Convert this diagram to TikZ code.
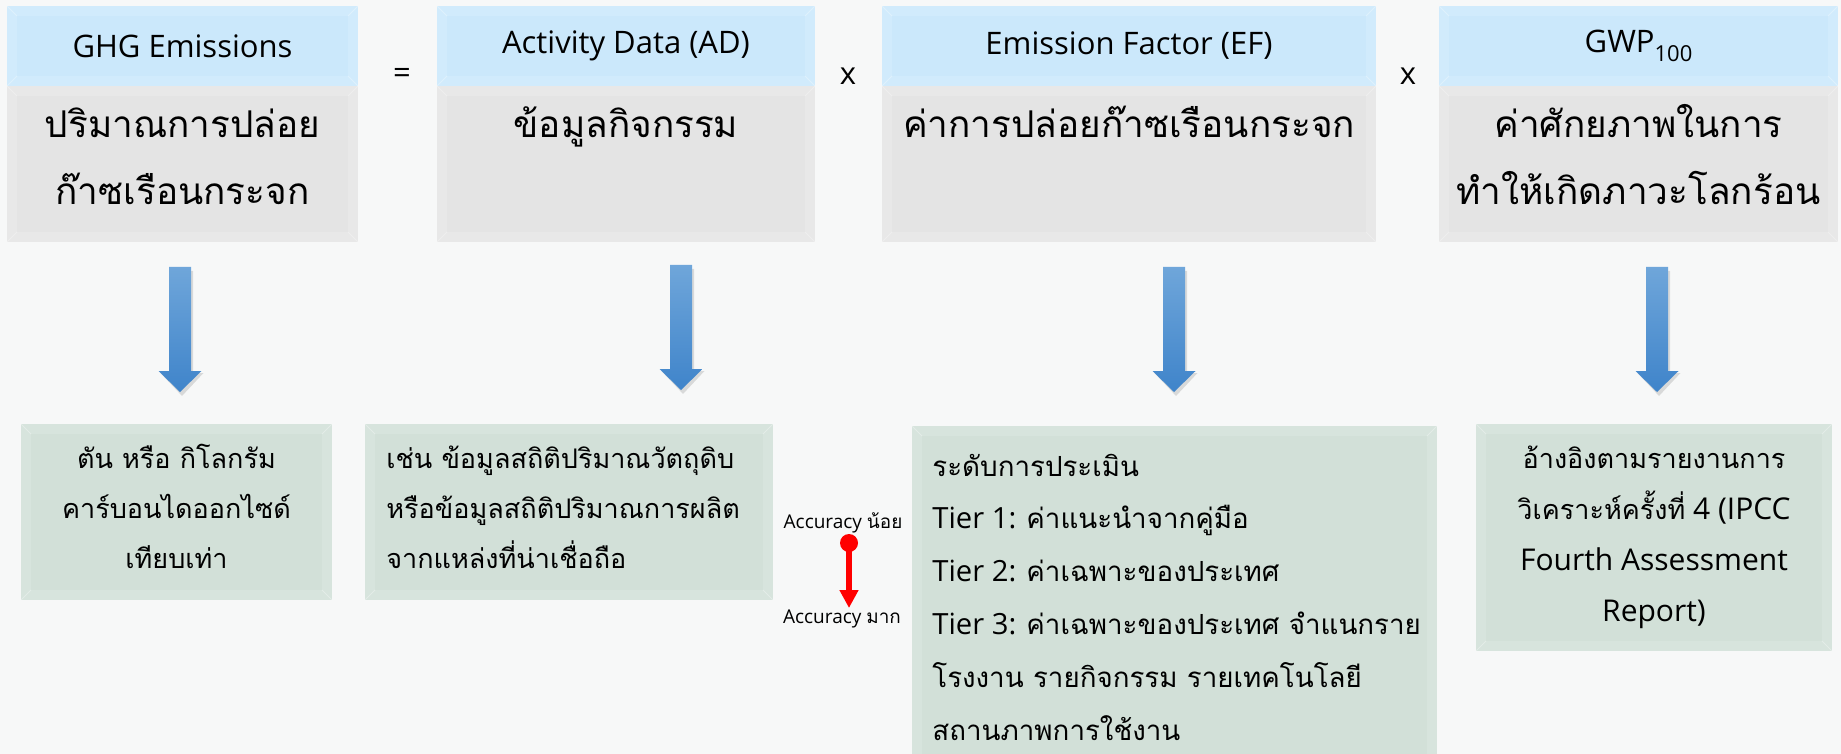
\documentclass[tikz,border=0pt]{standalone}
\usepackage{fontspec}
\setmainfont{Open Sans}
\newfontfamily\thfont[Script=Thai, Scale=0.9]{Loma}
\usetikzlibrary{arrows.meta}
\definecolor{bgcol}{HTML}{F7F8F8}
\definecolor{hdrin}{HTML}{CBE8FB}
\definecolor{hdrout}{HTML}{D1EBFC}
\definecolor{grayin}{HTML}{E4E4E4}
\definecolor{grayout}{HTML}{E8E8E8}
\definecolor{grnin}{HTML}{D2E0D8}
\definecolor{grnout}{HTML}{D7E4DD}
\definecolor{arrtop}{HTML}{6FA6DA}
\definecolor{arrbot}{HTML}{3F84CA}
\definecolor{accred}{HTML}{FF0000}
\tikzset{
  bevel/.style 2 args={fill=#1, draw=none, inner sep=0pt,
    path picture={
      \fill[#2] ([shift={(5pt,-5pt)}]path picture bounding box.north west) rectangle ([shift={(-5pt,5pt)}]path picture bounding box.south east);
      \draw[white, opacity=.3, line width=.5pt] (path picture bounding box.north west) -- ++(5pt,-5pt)
        (path picture bounding box.north east) -- ++(-5pt,-5pt)
        (path picture bounding box.south west) -- ++(5pt,5pt)
        (path picture bounding box.south east) -- ++(-5pt,5pt);
    }},
  hdrbox/.style={bevel={hdrout}{hdrin}, minimum height=40pt, font=\fontsize{15.5}{18}\selectfont},
  graybox/.style={bevel={grayout}{grayin}, minimum height=78pt},
  grnbox/.style={bevel={grnout}{grnin}},
  bigtxt/.style={inner sep=0pt, align=center, font=\thfont\fontsize{20.5}{33.5}\selectfont},
  smalltxt/.style={inner sep=0pt, font=\fontsize{15}{25}\selectfont},
  optxt/.style={inner sep=0pt, font=\fontsize{15.5}{18}\selectfont},
  acctxt/.style={inner sep=0pt, font=\fontsize{9.5}{11}\selectfont},
  fatarrow/.pic={
    \fill[black, opacity=.12] (-9,4) -- (13,4) -- (13,106) -- (23.5,106) -- (2,129) -- (-19.5,106) -- (-9,106) -- cycle;
    \shade[top color=arrtop, bottom color=arrbot] (-11,0) -- (11,0) -- (11,104) -- (21.5,104) -- (0,125) -- (-21.5,104) -- (-11,104) -- cycle;
  }
}
\begin{document}
\begin{tikzpicture}[x=0.5pt,y=-0.5pt]
\useasboundingbox (0,0) rectangle (1841,754);
\clip (0,0) rectangle (1841,754);
\fill[bgcol] (0,0) rectangle (1841,754);

% header boxes
\node[hdrbox, minimum width=175.5pt] (h1) at (182.5,46) {GHG Emissions};
\node[hdrbox, minimum width=189pt] (h2) at (626,46) {Activity Data (AD)};
\node[hdrbox, minimum width=247pt] (h3) at (1129,46) {Emission Factor (EF)};
\node[hdrbox, minimum width=199.5pt] (h4) at (1638.5,46) {GWP\raisebox{-0.55ex}{\fontsize{11}{11}\selectfont 100}};

% gray boxes
\node[graybox, minimum width=175.5pt] (g1) at (182.5,164) {};
\node[graybox, minimum width=189pt] (g2) at (626,164) {};
\node[graybox, minimum width=247pt] (g3) at (1129,164) {};
\node[graybox, minimum width=199.5pt] (g4) at (1638.5,164) {};

% (anchor=base of a multi-line node is the baseline of its last line)
\node[bigtxt, anchor=base] (gt1) at (182.5,205) {ปริมาณการปล่อย\\ก๊าซเรือนกระจก};
\node[bigtxt, anchor=base] (gt2) at (626,138) {ข้อมูลกิจกรรม};
\node[bigtxt, anchor=base] (gt3) at (1129,138) {ค่าการปล่อยก๊าซเรือนกระจก};
\node[bigtxt, anchor=base] (gt4) at (1638.5,205) {ค่าศักยภาพในการ\\ทำให้เกิดภาวะโลกร้อน};

% operators
\node[optxt] (eq) at (402,76) {=};
\node[optxt] (x1) at (848,76) {x};
\node[optxt] (x2) at (1408,76) {x};

% fat arrows
\pic at (180,267) {fatarrow};
\pic at (681,265) {fatarrow};
\pic at (1174,267) {fatarrow};
\pic at (1657,267) {fatarrow};

% bottom boxes
\node[grnbox, minimum width=155.5pt, minimum height=88pt] (b1) at (176.5,512) {};
\node[grnbox, minimum width=204pt, minimum height=88pt] (b2) at (569,512) {};
\node[grnbox, minimum width=262.5pt, minimum height=177pt] (b3) at (1174.5,603) {};
\node[grnbox, minimum width=178pt, minimum height=113.5pt] (b4) at (1654,537.5) {};

\node[smalltxt, align=center, anchor=base] (bt1) at (176.5,568) {\thfont ตัน หรือ กิโลกรัม\\\thfont คาร์บอนไดออกไซด์\\\thfont เทียบเท่า};
\node[smalltxt, align=left, anchor=base west] (bt2) at (386,568) {\thfont เช่น ข้อมูลสถิติปริมาณวัตถุดิบ\\\thfont หรือข้อมูลสถิติปริมาณการผลิต\\\thfont จากแหล่งที่น่าเชื่อถือ};
\node[smalltxt, align=left, anchor=base west, font=\fontsize{14.6}{26.4}\selectfont] (bt3) at (932,740) {{\thfont\fontsize{15.4}{26.4}\selectfont ระดับการประเมิน}\\Tier 1: {\thfont\fontsize{15.4}{26.4}\selectfont ค่าแนะนำจากคู่มือ}\\Tier 2: {\thfont\fontsize{15.4}{26.4}\selectfont ค่าเฉพาะของประเทศ}\\Tier 3: {\thfont\fontsize{15.4}{26.4}\selectfont ค่าเฉพาะของประเทศ จำแนกราย}\\{\thfont\fontsize{15.4}{26.4}\selectfont โรงงาน รายกิจกรรม รายเทคโนโลยี}\\{\thfont\fontsize{15.4}{26.4}\selectfont สถานภาพการใช้งาน}};
\node[smalltxt, align=center, anchor=base, font=\fontsize{15}{25.5}\selectfont] (bt4) at (1654,621) {{\thfont อ้างอิงตามรายงานการ}\\{\thfont วิเคราะห์ครั้งที่} 4 (IPCC\\Fourth Assessment\\Report)};

% accuracy indicator
\node[acctxt, anchor=base] (accL) at (843,528) {Accuracy {\thfont\fontsize{10.5}{11}\selectfont น้อย}};
\node[acctxt, anchor=base] (accM) at (842,623) {Accuracy {\thfont\fontsize{10.5}{11}\selectfont มาก}};
\node[circle, fill=accred, inner sep=0pt, minimum size=9pt] (dot) at (849,543) {};
\coordinate (accend) at (849,608);
\draw[accred, line width=3pt, -{Triangle[length=9pt,width=9pt]}] (dot.center) -- (accend);
\end{tikzpicture}
\end{document}
